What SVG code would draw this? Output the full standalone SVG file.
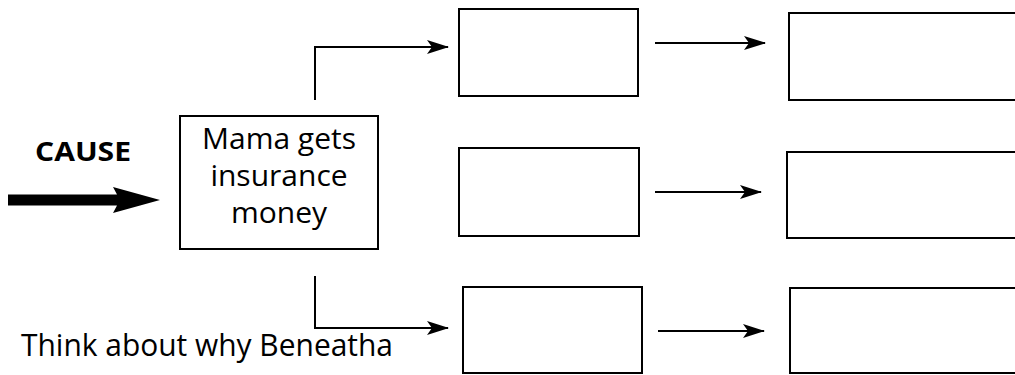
<svg xmlns="http://www.w3.org/2000/svg" width="1015" height="375" viewBox="0 0 1015 375">
  <style>
    .box { fill: #ffffff; stroke: #000000; stroke-width: 2; }
    .conn { fill: none; stroke: #000000; stroke-width: 2; }
    .txt { font-family: "Open Sans", "Liberation Sans", sans-serif; font-size: 30px; fill: #000000; }
    .note { font-family: "Open Sans", "Liberation Sans", sans-serif; font-size: 31px; fill: #000000; }
    .bold { font-family: "Open Sans", "Liberation Sans", sans-serif; font-size: 27px; font-weight: bold; fill: #000000; }
  </style>
  <defs>
    <marker id="arrow" viewBox="0 0 22 14" refX="21" refY="7" markerWidth="22" markerHeight="14" markerUnits="userSpaceOnUse" orient="auto">
      <path d="M0,0 L22,7 L0,14 L5,7 Z" fill="#000000"/>
    </marker>
  </defs>
  <rect width="1015" height="375" fill="#ffffff"/>

  <g id="cause-label">
    <text class="bold" x="35" y="161" textLength="96" lengthAdjust="spacingAndGlyphs">CAUSE</text>
    <path d="M8,194.5 H117 L113,187 L160,200 L113,213 L117,205.5 H8 Z" fill="#000000"/>
  </g>

  <g id="node-cause">
    <rect class="box" x="180" y="116" width="198" height="133"/>
    <text class="txt" x="279" y="149" text-anchor="middle">Mama gets</text>
    <text class="txt" x="279" y="186" text-anchor="middle">insurance</text>
    <text class="txt" x="279" y="223" text-anchor="middle">money</text>
  </g>

  <g id="node-effect-1a"><rect class="box" x="459" y="9" width="179" height="87"/></g>
  <g id="node-effect-2a"><rect class="box" x="459" y="148" width="180" height="88"/></g>
  <g id="node-effect-3a"><rect class="box" x="463" y="287" width="179" height="86"/></g>
  <g id="node-effect-1b"><rect class="box" x="789" y="13" width="240" height="87"/></g>
  <g id="node-effect-2b"><rect class="box" x="787" y="152" width="240" height="86"/></g>
  <g id="node-effect-3b"><rect class="box" x="790" y="288" width="240" height="85"/></g>

  <g id="connectors">
    <path class="conn" d="M315,100 V47 H448" marker-end="url(#arrow)"/>
    <path class="conn" d="M315,276 V328 H448" marker-end="url(#arrow)"/>
    <path class="conn" d="M655,43 H765" marker-end="url(#arrow)"/>
    <path class="conn" d="M655,192 H761" marker-end="url(#arrow)"/>
    <path class="conn" d="M658,331 H764" marker-end="url(#arrow)"/>
  </g>

  <g id="note">
    <text class="note" x="21" y="356" textLength="372" lengthAdjust="spacingAndGlyphs">Think about why Beneatha</text>
  </g>
</svg>
